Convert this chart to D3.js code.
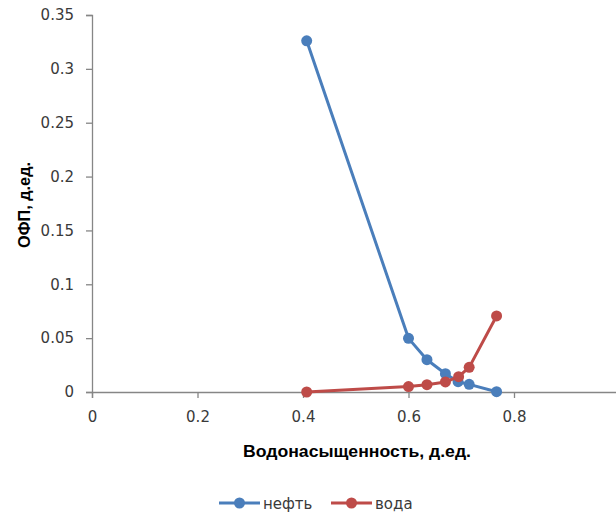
<!DOCTYPE html>
<html><head><meta charset="utf-8">
<script src="https://cdn.jsdelivr.net/npm/d3@7/dist/d3.min.js"></script>
<style>
body{margin:0;background:#fff;}
svg{display:block;}
text{font-family:"DejaVu Sans",sans-serif;}
</style></head>
<body>
<svg id="c" width="616" height="515"></svg>
<script>
const oilX = [0.407, 0.600, 0.635, 0.670, 0.694, 0.715, 0.767];
const oilY = [0.326, 0.0498, 0.030, 0.017, 0.0096, 0.0071, 0.0003];
const waterX = [0.407, 0.600, 0.635, 0.670, 0.695, 0.715, 0.767];
const waterY = [0.0, 0.005, 0.0068, 0.0093, 0.0142, 0.0229, 0.0706];
const seriesNames = ["нефть", "вода"];
const xTicks = [0, 0.2, 0.4, 0.6, 0.8, 1.0];
const xTickLabels = ["0", "0.2", "0.4", "0.6", "0.8", "1"];
const yTicks = [0, 0.05, 0.1, 0.15, 0.2, 0.25, 0.3, 0.35];
const yTickLabels = ["0", "0.05", "0.1", "0.15", "0.2", "0.25", "0.3", "0.35"];
const xTitle = "Водонасыщенность, д.ед.";
const yTitle = "ОФП, д.ед.";

const colors = ["#4a7ebb", "#be4b48"];
const svg = d3.select("#c");
const x = d3.scaleLinear().domain([0, 1]).range([92, 619.5]);
const y = d3.scaleLinear().domain([0, 0.35]).range([392, 15]);
const axisColor = "#868686";
const labelColor = "#3a3a3a";

// y axis
const gy = svg.append("g").attr("transform", "translate(92,0)")
  .call(d3.axisLeft(y).tickValues(yTicks).tickSize(6).tickPadding(12)
    .tickFormat((d, i) => yTickLabels[i]));
gy.select(".domain").attr("stroke", axisColor).attr("stroke-width", 1.3);
gy.selectAll(".tick line").attr("stroke", axisColor).attr("stroke-width", 1.3);
gy.selectAll(".tick text").attr("fill", labelColor).style("font-size", "15px").style("font-family", "DejaVu Sans, sans-serif");

// x axis
const gx = svg.append("g").attr("transform", "translate(0,392)")
  .call(d3.axisBottom(x).tickValues(xTicks).tickSize(6).tickPadding(13)
    .tickFormat((d, i) => xTickLabels[i]));
gx.select(".domain").attr("stroke", axisColor).attr("stroke-width", 1.3);
gx.selectAll(".tick line").attr("stroke", axisColor).attr("stroke-width", 1.3);
gx.selectAll(".tick text").attr("fill", labelColor).style("font-size", "15px").style("font-family", "DejaVu Sans, sans-serif");

// titles
svg.append("text").attr("x", 357).attr("y", 456.5).attr("text-anchor", "middle")
  .attr("textLength", 228).attr("lengthAdjust", "spacingAndGlyphs")
  .style("font-family", "Liberation Sans, Arial, sans-serif")
  .style("font-size", "16.5px").style("font-weight", "bold").attr("fill", "#000").text(xTitle);
svg.append("text").attr("transform", "translate(30,205) rotate(-90)").attr("text-anchor", "middle")
  .attr("textLength", 86).attr("lengthAdjust", "spacingAndGlyphs")
  .style("font-family", "Liberation Sans, Arial, sans-serif")
  .style("font-size", "16.5px").style("font-weight", "bold").attr("fill", "#000").text(yTitle);

// series
const series = [
  oilX.map((v, i) => [v, oilY[i]]),
  waterX.map((v, i) => [v, waterY[i]])
];
const line = d3.line().x(d => x(d[0])).y(d => y(d[1]));
series.forEach((s, k) => {
  const g = svg.append("g");
  g.append("path").attr("d", line(s)).attr("fill", "none").attr("stroke", colors[k])
    .attr("stroke-width", 3).attr("stroke-linejoin", "round");
  g.selectAll("circle").data(s).enter().append("circle")
    .attr("cx", d => x(d[0])).attr("cy", d => y(d[1])).attr("r", 5.5).attr("fill", colors[k]);
});

// legend
const legX = [219, 331];
seriesNames.forEach((n, k) => {
  const g = svg.append("g").attr("transform", `translate(${legX[k]},503)`);
  g.append("line").attr("x1", 0).attr("x2", 41).attr("stroke", colors[k]).attr("stroke-width", 3);
  g.append("circle").attr("cx", 20.5).attr("r", 5.5).attr("fill", colors[k]);
  g.append("text").attr("x", 44).attr("y", 5.5).style("font-size", "15px").attr("fill", labelColor).text(n);
});
</script>
</body></html>
